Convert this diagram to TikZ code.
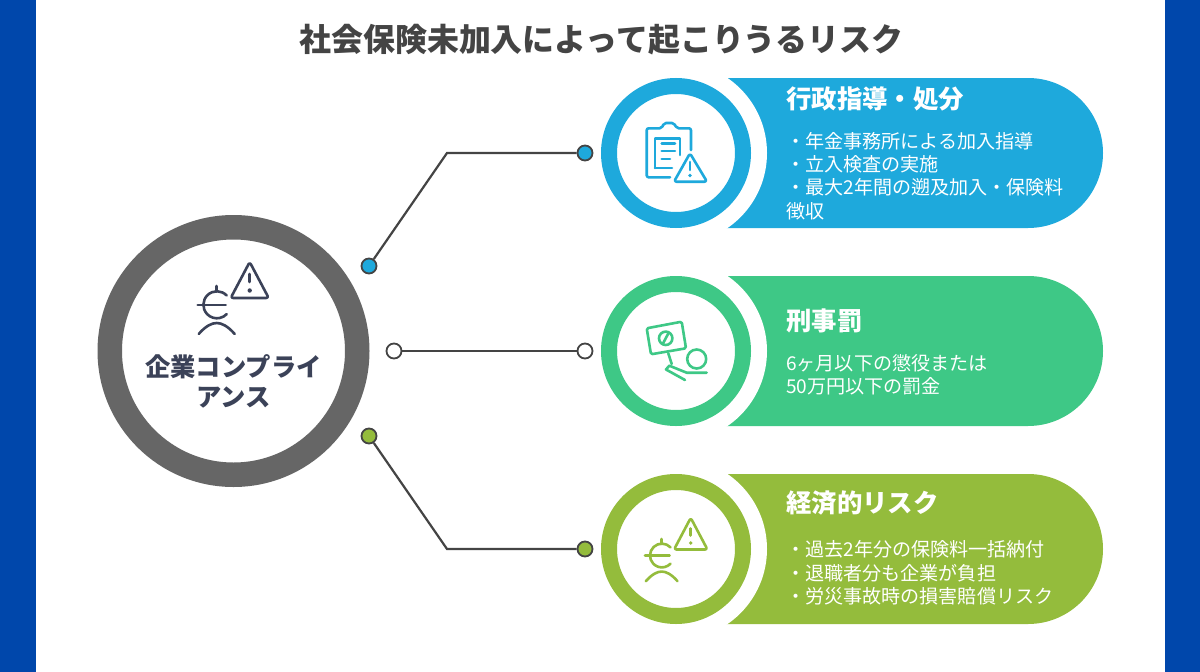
\documentclass[tikz,border=0pt]{standalone}
\usepackage{fontspec}
\setmainfont{Noto Sans CJK JP}
\definecolor{sideblue}{HTML}{0047AB}
\definecolor{cblue}{HTML}{1EA9DC}
\definecolor{cgreen}{HTML}{3EC886}
\definecolor{clime}{HTML}{94BC3C}
\definecolor{cgray}{HTML}{666666}
\definecolor{cdark}{HTML}{3B4258}
\definecolor{cline}{HTML}{444444}
\tikzset{
  ring/.style={circle,draw=#1,fill=white,line width=16pt,minimum size=134pt,inner sep=0pt,outer sep=0pt},
  pillhead/.style={anchor=base west,text=white,font=\fontsize{25.4}{30}\selectfont\bfseries,inner sep=0pt},
  pillbody/.style={anchor=west,text=white,align=left,font=\fontsize{19.08}{23.4}\selectfont,inner sep=0pt},
  dotnode/.style={circle,draw=cline,fill=#1,line width=1.8pt,minimum size=15pt,inner sep=0pt},
  conn/.style={draw=cline,line width=2.2pt},
  icon/.style={draw=#1,line width=2.6pt,line cap=round,line join=round},
  europerson/.pic={
    \draw[icon=#1] (10,-9.5) arc[start angle=-43.5,end angle=-316.5,radius=13.5];
    \draw[icon=#1] (0,-19) -- (0,-13.5);
    \draw[icon=#1] (-19,0) -- (9,0);
    \draw[icon=#1] (-18,29) .. controls (-11,21) and (-5,18) .. (0,18) .. controls (5,18) and (11,21) .. (18,29);
    \draw[icon=#1,rounded corners=2.5pt] (33,-43) -- (52,-7) -- (14,-7) -- cycle;
    \draw[icon=#1] (33,-31) -- (33,-23);
    \fill[#1] (33,-14.5) circle[radius=2.2];
  },
}
\begin{document}
\begin{tikzpicture}[x=1pt,y=1pt,yscale=-1]
\useasboundingbox (0,0) rectangle (1200,672);
\fill[white] (0,0) rectangle (1200,672);
\fill[sideblue] (0,0) rectangle (36,672);
\fill[sideblue] (1165,0) rectangle (1200,672);
\node[text=cline,font=\fontsize{31.95}{36}\selectfont\bfseries,inner sep=0pt] (title) at (601.5,40) {社会保険未加入によって起こりうるリスク};

% pills
\fill[cblue] (726,78) -- (1028,78) arc[start angle=-90,end angle=90,radius=75] -- (726,228) -- cycle;
\fill[cgreen] (726,276) -- (1028,276) arc[start angle=-90,end angle=90,radius=75] -- (726,426) -- cycle;
\fill[clime] (726,474) -- (1028,474) arc[start angle=-90,end angle=90,radius=75] -- (726,624) -- cycle;
\fill[white] (676,153) circle[radius=91];
\fill[white] (676,351) circle[radius=91];
\fill[white] (676,549) circle[radius=91];
\node[ring=cblue] (r1) at (676,153) {};
\node[ring=cgreen] (r2) at (676,351) {};
\node[ring=clime] (r3) at (676,549) {};

% main ring
\node[circle,draw=cgray,fill=white,line width=24.5pt,minimum size=247.5pt,inner sep=0pt,outer sep=0pt] (main) at (233.5,351) {};
\pic[yscale=-1] at (216.7,305) {europerson=cdark};
\node[text=cdark,align=center,font=\fontsize{25.3}{30}\selectfont\bfseries,inner sep=0pt] (mainlabel) at (233.5,381) {企業コンプライ\\アンス};

% connectors
\node[dotnode=cblue] (a1) at (369,266) {};
\node[dotnode=cblue] (b1) at (585,153) {};
\node[dotnode=white] (a2) at (394,351) {};
\node[dotnode=white] (b2) at (585,351) {};
\node[dotnode=clime] (a3) at (369,436) {};
\node[dotnode=clime] (b3) at (585,549) {};
\coordinate (k1) at (447,153);
\coordinate (k3) at (447,549);
\draw[conn] (a1) -- (k1) -- (b1);
\draw[conn] (a2) -- (b2);
\draw[conn] (a3) -- (k3) -- (b3);

% texts
\node[pillhead] (h1) at (786,108) {行政指導・処分};
\node[pillbody] (t1) at (786,176) {・年金事務所による加入指導\\・立入検査の実施\\・最大2年間の遡及加入・保険料\\徴収};
\node[pillhead] (h2) at (786,330) {刑事罰};
\node[pillbody] (t2) at (786,374.5) {6ヶ月以下の懲役または\\50万円以下の罰金};
\node[pillhead] (h3) at (786,512) {経済的リスク};
\node[pillbody] (t3) at (786,573) {・過去2年分の保険料一括納付\\・退職者分も企業が負担\\・労災事故時の損害賠償リスク};

% icon 1: clipboard and warning
\draw[icon=cblue,rounded corners=2pt] (670,177.3) -- (646.7,177.3) -- (646.7,128.3) -- (661.7,128.3) -- (664,123) -- (674,123) -- (676.7,128.3) -- (691,128.3) -- (691,150);
\draw[icon=cblue] (655,168) -- (655,138.3) -- (680,138.3) -- (680,155);
\draw[icon=cblue] (655,168) -- (672,168);
\draw[icon=cblue] (661.7,143.3) -- (675,143.3);
\draw[icon=cblue] (661.7,151) -- (675,151);
\draw[icon=cblue] (661.7,159) -- (670,159);
\draw[icon=cblue,rounded corners=2.5pt] (690,153.3) -- (707,181.7) -- (674,181.7) -- cycle;
\draw[icon=cblue] (690,162) -- (690,170);
\fill[cblue] (690,175.5) circle[radius=1.9];

% icon 2: sign and person
\draw[icon=cgreen,rounded corners=1.5pt] (646.7,328.3) -- (681.7,321.7) -- (686,348.3) -- (651,354.3) -- cycle;
\draw[icon=cgreen] (665.7,338.3) circle[radius=6.7];
\draw[icon=cgreen] (662.7,344) -- (668.7,332.7);
\draw[icon=cgreen] (668.3,353.3) -- (671.7,364);
\draw[icon=cgreen] (696.7,359) circle[radius=9.5];
\draw[icon=cgreen] (685,380) -- (666,369.5) -- (669.3,365.7) -- (686.7,372.7) -- (706.7,372.7);

% icon 3
\pic[xscale=0.88,yscale=-0.88] at (661.7,555.7) {europerson=clime};
\end{tikzpicture}
\end{document}
